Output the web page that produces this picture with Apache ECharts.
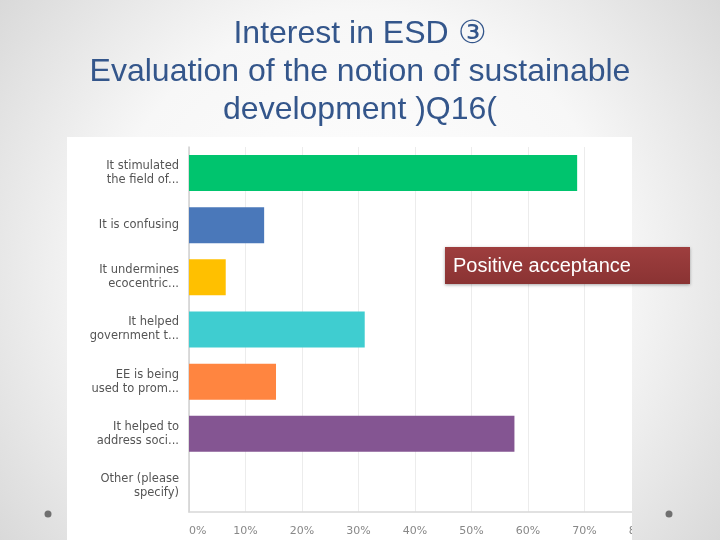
<!DOCTYPE html>
<html>
<head>
<meta charset="utf-8">
<script src="https://cdn.jsdelivr.net/npm/echarts@6/dist/echarts.min.js"></script>
<style>html,body{margin:0;padding:0;background:#fff}#c{width:720px;height:540px}</style>
</head>
<body>
<div id="c"></div>
<script>
const titleLines = ['Interest in ESD \u2462', 'Evaluation of the notion of sustainable', 'development )Q16('];
const categories = ['It stimulated\nthe field of...', 'It is confusing', 'It undermines\necocentric...', 'It helped\ngovernment t...', 'EE is being\nused to prom...', 'It helped to\naddress soci...', 'Other (please\nspecify)'];
const values = [68.7, 13.3, 6.5, 31.1, 15.4, 57.6, 0];
const xTicks = [0, 10, 20, 30, 40, 50, 60, 70, 80];
const calloutText = 'Positive acceptance';
const barColors = ['#00C46E', '#4A78BA', '#FFC000', '#3FCDD0', '#FF8540', '#845592', '#999999'];

const bgGrad = {type: 'radial', x: 360, y: 270, r: 470, global: true,
  colorStops: [{offset: 0, color: '#ffffff'}, {offset: 0.55, color: '#f7f7f7'}, {offset: 1, color: '#d6d6d6'}]};

const chart = echarts.init(document.getElementById('c'));
chart.setOption({
  animation: false,
  title: {
    text: titleLines.join('\n'), left: 'center', top: 10,
    textStyle: {fontFamily: 'Liberation Sans', fontSize: 32, fontWeight: 'normal', color: '#34568B', lineHeight: 38}
  },
  graphic: [
    {type: 'rect', z: -20, silent: true, shape: {x: 0, y: 0, width: 720, height: 540}, style: {fill: bgGrad}},
    {type: 'rect', z: -10, silent: true, shape: {x: 67, y: 137, width: 565, height: 403}, style: {fill: '#ffffff'}},
    {type: 'rect', z: 100, silent: true, shape: {x: 632, y: 137, width: 88, height: 403}, style: {fill: bgGrad}},
    {type: 'circle', z: 101, silent: true, shape: {cx: 48, cy: 514, r: 3.5}, style: {fill: '#707070'}},
    {type: 'circle', z: 101, silent: true, shape: {cx: 669, cy: 514, r: 3.5}, style: {fill: '#707070'}},
    {type: 'rect', z: 102, silent: true, shape: {x: 445, y: 247, width: 245, height: 37},
      style: {fill: {type: 'linear', x: 0, y: 0, x2: 0, y2: 1, colorStops: [{offset: 0, color: '#9E3E3E'}, {offset: 1, color: '#8A3333'}]},
        shadowBlur: 3, shadowColor: 'rgba(0,0,0,0.35)', shadowOffsetY: 1}},
    {type: 'text', z: 103, silent: true, x: 453, y: 266,
      style: {text: calloutText, fill: '#ffffff', font: '20px "Liberation Sans"', textVerticalAlign: 'middle'}}
  ],
  grid: {left: 189, top: 147, width: 452, bottom: 28, containLabel: false},
  xAxis: {
    type: 'value', min: xTicks[0], max: xTicks[xTicks.length - 1], interval: 10,
    axisLine: {show: true, lineStyle: {color: '#d8d8d8', width: 1.5}},
    axisTick: {show: false},
    splitLine: {show: true, lineStyle: {color: '#ececec'}},
    axisLabel: {formatter: '{value}%', color: '#888', fontFamily: 'DejaVu Sans', fontSize: 11, margin: 14, alignMinLabel: 'left'}
  },
  yAxis: {
    type: 'category', data: categories, inverse: true,
    axisLine: {show: true, lineStyle: {color: '#d0d0d0', width: 1.5}},
    axisTick: {show: false},
    axisLabel: {color: '#555', fontFamily: 'DejaVu Sans', fontSize: 11.5, lineHeight: 14, margin: 10, align: 'right'}
  },
  series: [{
    type: 'bar', barWidth: 36,
    data: values.map((v, i) => ({value: v, itemStyle: {color: barColors[i]}}))
  }]
});
</script>
</body>
</html>
